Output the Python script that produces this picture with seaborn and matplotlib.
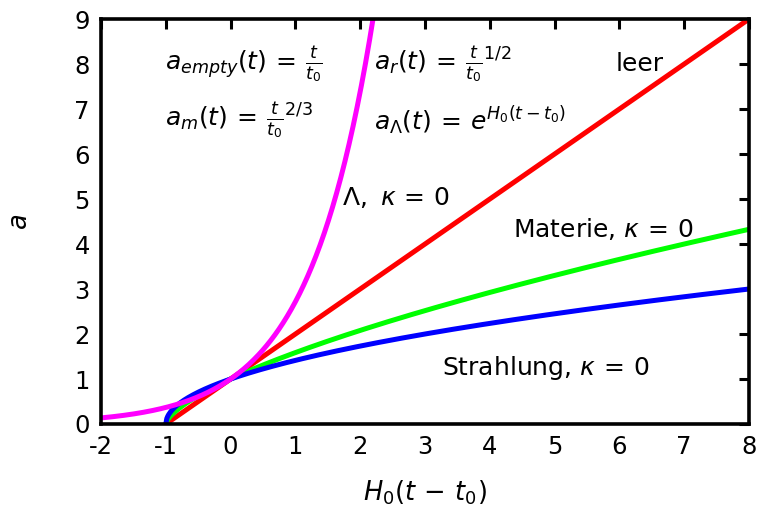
import numpy as np
import pandas as pd
import matplotlib
matplotlib.use("Agg")
import matplotlib.pyplot as plt
import seaborn as sns

# Scale factor a(t) for flat (kappa = 0) Friedmann models, plotted against H0 (t - t0)
model_names = ["leer", "Materie", "Strahlung"]
model_exponents = [1.0, 2.0 / 3.0, 1.0 / 2.0]          # a = (t/t0)^n
model_colors = ["#ff0000", "#00ff00", "#0000ff"]
lambda_color = "#ff00ff"

x_ticks = [-2, -1, 0, 1, 2, 3, 4, 5, 6, 7, 8]
y_ticks = [0, 1, 2, 3, 4, 5, 6, 7, 8, 9]
x_range = (-2, 8)
y_range = (0, 9)

# sample the curves; power-law models start at the big bang, t = 0  <=>  H0 (t - t0) = -1
rows = []
tau = np.linspace(-1.0, 8.0, 600)
for name, n in zip(model_names, model_exponents):
    a = np.power(1.0 + tau, n)
    rows.append(pd.DataFrame({"tau": tau, "a": a, "model": name}))
tau_l = np.linspace(-2.0, np.log(9.3), 400)
rows.append(pd.DataFrame({"tau": tau_l, "a": np.exp(tau_l), "model": "Lambda"}))
df = pd.concat(rows, ignore_index=True)

sns.set_style("white")
plt.rcParams["font.family"] = ["DejaVu Sans"]
plt.rcParams["mathtext.fontset"] = "dejavusans"
for key in ["text.color", "axes.labelcolor", "xtick.color", "ytick.color"]:
    plt.rcParams[key] = "black"

fig = plt.figure(figsize=(7.63, 5.14), dpi=100)
ax = fig.add_axes([0.1324, 0.1751, 0.8493, 0.7879])

palette = dict(zip(model_names, model_colors))
palette["Lambda"] = lambda_color
sns.lineplot(data=df, x="tau", y="a", hue="model", palette=palette,
             hue_order=model_names + ["Lambda"], linewidth=3.6,
             legend=False, ax=ax, sort=False, estimator=None)

ax.set_xlim(*x_range)
ax.set_ylim(*y_range)
ax.set_xticks(x_ticks)
ax.set_yticks(y_ticks)
ax.set_xticklabels([str(v) for v in x_ticks])
ax.set_yticklabels([str(v) for v in y_ticks])
ax.tick_params(direction="in", length=7, width=2.2, labelsize=17.5,
               top=True, right=True, pad=8)
for s in ax.spines.values():
    s.set_linewidth(2.6)
    s.set_color("black")

ax.set_xlabel(r"$H_0(t\,-\,t_0)$", fontsize=18.5, labelpad=14)
ax.set_ylabel(r"$a$", fontsize=18.5, labelpad=30)

fs = 18
ax.text(-1.02, 8.0, r"$a_{empty}(t)\,=\,\frac{t}{t_0}$", fontsize=fs, va="center")
ax.text(2.21, 8.0, r"$a_r(t)\,=\,\frac{t}{t_0}{}^{1/2}$", fontsize=fs, va="center")
ax.text(-1.02, 6.75, r"$a_m(t)\,=\,\frac{t}{t_0}{}^{2/3}$", fontsize=fs, va="center")
ax.text(2.21, 6.75, r"$a_\Lambda(t)\,=\,e^{H_0(t-t_0)}$", fontsize=fs, va="center")
ax.text(6.32, 8.0, "leer", fontsize=fs, va="center", ha="center")
ax.text(1.72, 5.04, r"$\Lambda,\ \kappa\,=\,0$", fontsize=fs, va="center")
ax.text(4.36, 4.33, r"Materie, $\kappa\,=\,0$", fontsize=fs, va="center")
ax.text(3.26, 1.24, r"Strahlung, $\kappa\,=\,0$", fontsize=fs, va="center")

fig.savefig("out.png", dpi=100)
